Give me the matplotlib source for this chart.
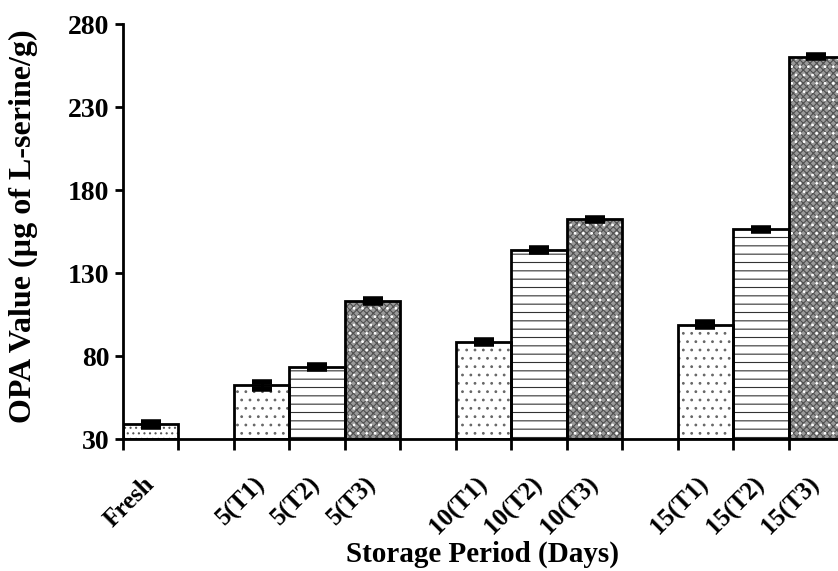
import numpy as np
import matplotlib
matplotlib.use('Agg')
import matplotlib.pyplot as plt

# data
labels = ['Fresh', '5(T1)', '5(T2)', '5(T3)', '10(T1)', '10(T2)', '10(T3)',
          '15(T1)', '15(T2)', '15(T3)']
slots = [0, 2, 3, 4, 6, 7, 8, 10, 11, 12]
values = [39, 62.5, 73.8, 113.3, 88.6, 143.9, 162.5, 98.9, 156.5, 260.5]
errors = [1.5, 2, 1.2, 1, 1, 1.2, 1, 1.5, 1, 1]
groups = ['fresh', 'T1', 'T2', 'T3', 'T1', 'T2', 'T3', 'T1', 'T2', 'T3']

plt.rcParams['font.family'] = 'Liberation Serif'
plt.rcParams['font.weight'] = 'bold'
plt.rcParams['hatch.linewidth'] = 0.8

# (face, [(hatch, colour), ...])
styles = {
    'fresh': ('white', [('...', '#555555')]),
    'T1': ('white', [('..', '#666666')]),
    'T2': ('white', [('--', '#333333')]),
    'T3': ('#9a9a9a', [('xxxxx', '#505050'), ('..', 'white')]),
}

fig = plt.figure(figsize=(8.38, 5.71), dpi=100)
ax = fig.add_axes([0.1468, 0.2307, 0.8605, 0.7267])

bottom = 30
for s, v, e, g in zip(slots, values, errors, groups):
    face, layers = styles[g]
    ax.bar(s + 0.5, v - bottom, bottom=bottom, width=1.0, color=face,
           linewidth=0, zorder=2)
    for h, hc in layers:
        ax.bar(s + 0.5, v - bottom, bottom=bottom, width=1.0, fill=False,
               edgecolor=hc, hatch=h, linewidth=0, zorder=2)
    # outline
    ax.bar(s + 0.5, v - bottom, bottom=bottom, width=1.0, fill=False,
           edgecolor='black', linewidth=2, zorder=3)
    ax.errorbar(s + 0.5, v, yerr=e, fmt='none', ecolor='black',
                elinewidth=2, capsize=7, capthick=4, zorder=4)

ax.set_xlim(0, 13)
ax.set_ylim(30, 280)
ax.set_yticks(np.arange(30, 281, 50))
ax.tick_params(axis='y', direction='out', length=6, width=2, labelsize=20, pad=4)

ax.set_xticks(np.arange(0, 14, 1), minor=True)
ax.set_xticks([s + 0.5 for s in slots])
ax.set_xticklabels(labels, rotation=45, ha='right', va='center',
                   rotation_mode='anchor', fontsize=18)
ax.tick_params(axis='x', which='major', length=0, pad=30)
ax.tick_params(axis='x', which='minor', direction='out', length=8, width=2)

for side in ['top', 'right']:
    ax.spines[side].set_visible(False)
for side in ['left', 'bottom']:
    ax.spines[side].set_linewidth(2)

ax.set_ylabel('OPA Value (\u00b5g of L-serine/g)', fontsize=23, fontweight='bold')
ax.yaxis.set_label_coords(-0.118, 0.513)
ax.set_xlabel('Storage Period (Days)', fontsize=21, fontweight='bold')
ax.xaxis.set_label_coords(0.498, -0.245)

fig.savefig('out.png', dpi=100)
